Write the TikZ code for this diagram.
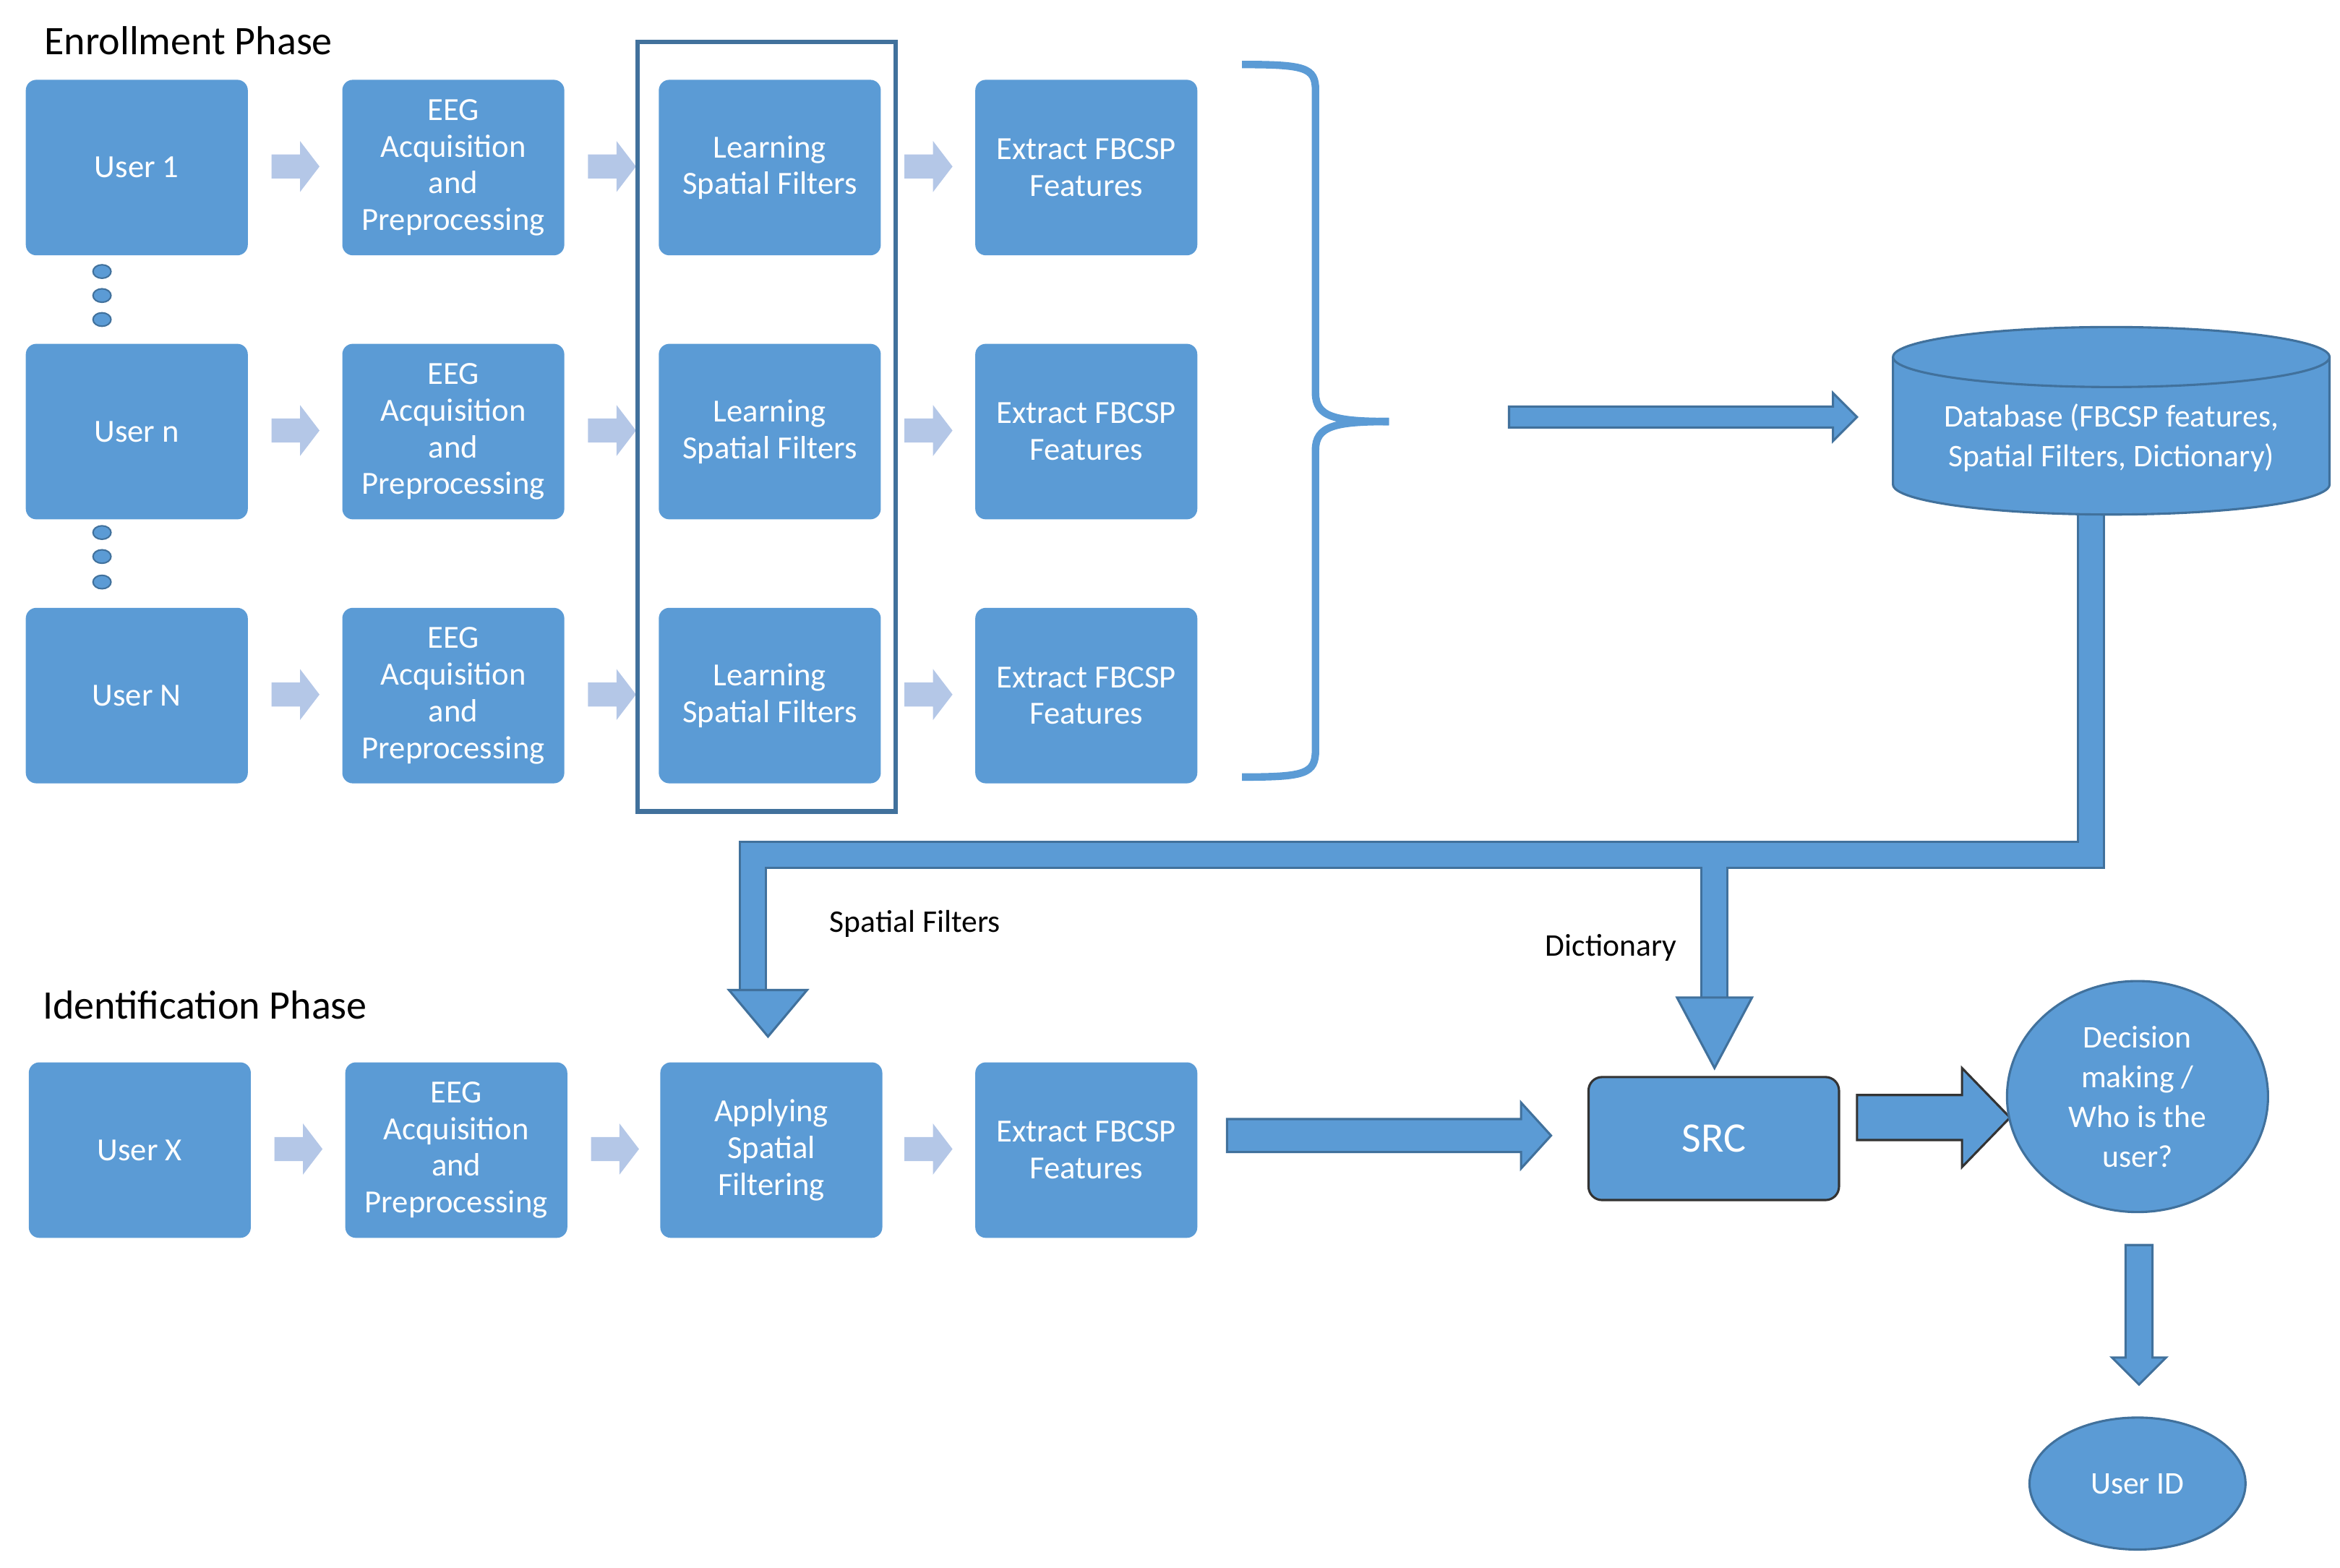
\documentclass[tikz,border=0pt]{standalone}
\usepackage{fontspec}
\setmainfont{Carlito}
\usetikzlibrary{shapes.geometric,decorations.pathreplacing}
\definecolor{bl}{HTML}{5B9BD5}
\definecolor{dk}{HTML}{41719C}
\definecolor{lt}{HTML}{B4C7E7}
\newcommand{\harr}[7]{% x1 x2 y hs hh hl style
  \path[#7] (#1,#3-#4) -- (#2-#6,#3-#4) -- (#2-#6,#3-#5) -- (#2,#3) -- (#2-#6,#3+#5) -- (#2-#6,#3+#4) -- (#1,#3+#4) -- cycle;}
\newcommand{\varr}[7]{% y1 y2 x hs hh hl style
  \path[#7] (#3-#4,#1) -- (#3-#4,#2-#6) -- (#3-#5,#2-#6) -- (#3,#2) -- (#3+#5,#2-#6) -- (#3+#4,#2-#6) -- (#3+#4,#1) -- cycle;}
\begin{document}
\begin{tikzpicture}[x=1pt,y=-1pt,
  box/.style={fill=bl,rounded corners=7pt,text=white,align=center,font=\fontsize{21.5}{24.5}\selectfont,minimum width=148pt,minimum height=117pt,anchor=north west,inner sep=2pt},
  small/.style={fill=lt},
  big/.style={fill=bl,draw=dk,line width=1.5pt},
  lbl/.style={font=\fontsize{21}{23}\selectfont,text=black},
  dot/.style={ellipse,fill=bl,draw=dk,line width=1pt,minimum width=12pt,minimum height=9pt,inner sep=0pt}]
\useasboundingbox (0,0) rectangle (1560,1045);
\node[lbl,anchor=west,font=\fontsize{27}{30}\selectfont] (t1) at (26,27) {Enrollment Phase};
\node[lbl,anchor=west,font=\fontsize{27}{30}\selectfont] (t2) at (25,670) {Identification Phase};
\foreach \r/\y/\u in {1/53/User 1,2/229/User n,3/405/User N}{
  \node[box] (u\r) at (17,\y) {\u};
  \node[box] (e\r) at (228,\y) {EEG\\Acquisition\\and\\Preprocessing};
  \node[box] (l\r) at (439,\y) {Learning\\Spatial Filters};
  \node[box] (f\r) at (650,\y) {Extract FBCSP\\Features};
  \pgfmathsetmacro\c{\y+58}
  \harr{181}{213}{\c}{8}{17}{13}{small}
  \harr{392}{424}{\c}{8}{17}{13}{small}
  \harr{603}{635}{\c}{8}{17}{13}{small}
}
\foreach \i/\y in {a/181,b/197,c/213,d/355,e/371,f/388}{\node[dot] (d\i) at (68,\y) {};}
\draw[dk,line width=3pt] (425,28) rectangle (597,541);
\draw[bl,line width=5pt] (828,43) .. controls (870,43) and (877,45) .. (877,60) -- (877,262) .. controls (877,278) and (890,281) .. (926,281);
\draw[bl,line width=5pt] (828,518) .. controls (870,518) and (877,516) .. (877,500) -- (877,300) .. controls (877,284) and (890,281) .. (926,281);
\harr{1006}{1238}{278}{7}{16}{16}{big}
% distribution
\draw[dk,line width=19pt] (1394,330) -- (1394,570) -- (502,570) -- (502,662);
\draw[dk,line width=19pt] (1143,570) -- (1143,667);
\draw[bl,line width=16pt] (1394,330) -- (1394,570) -- (502,570) -- (502,664);
\draw[bl,line width=16pt] (1143,570) -- (1143,669);
\path[fill=bl,draw=dk,line width=1.5pt] (486,660) -- (538,660) -- (512,691) -- cycle;
\path[fill=bl,draw=dk,line width=1.5pt] (1118,665) -- (1168,665) -- (1143,712) -- cycle;
% database
\path[fill=bl,draw=dk,line width=1.5pt] (1262,238) -- (1262,323) arc[start angle=180,end angle=0,x radius=145.5,y radius=20] -- (1553,238);
\node[ellipse,fill=bl,draw=dk,line width=1.5pt,minimum width=291pt,minimum height=40pt,inner sep=0pt] (dbtop) at (1407.5,238) {};
\node[text=white,align=center,font=\fontsize{21}{26.5}\selectfont] (db) at (1407.5,292) {Database (FBCSP features,\\Spatial Filters, Dictionary)};
\node[lbl] (sf) at (610,616) {Spatial Filters};
\node[lbl] (dc) at (1074,632) {Dictionary};
% identification
\node[box] (ux) at (19,708) {User X};
\node[box] (ex) at (230,708) {EEG\\Acquisition\\and\\Preprocessing};
\node[box] (ax) at (440,708) {Applying\\Spatial\\Filtering};
\node[box] (fx) at (650,708) {Extract FBCSP\\Features};
\harr{183}{215}{766}{8}{17}{13}{small}
\harr{394}{426}{766}{8}{17}{13}{small}
\harr{603}{635}{766}{8}{17}{13}{small}
\harr{818}{1034}{757}{11}{22}{20}{big}
\node[draw=black!80,line width=1.5pt,fill=bl,rounded corners=9pt,minimum width=167pt,minimum height=82pt,text=white,font=\fontsize{28}{30}\selectfont] (src) at (1142.5,759) {SRC};
\harr{1238}{1340}{745}{15}{33}{32}{{fill=bl,draw=black!80,line width=1.5pt}}
\node[ellipse,fill=bl,draw=dk,line width=1.5pt,minimum width=174pt,minimum height=154pt,inner sep=0pt,text=white,align=center,font=\fontsize{21}{26.5}\selectfont] (dm) at (1425,731) {Decision\\making /\\Who is the\\user?};
\varr{830}{923}{1426}{9}{18}{18}{big}
\node[ellipse,fill=bl,draw=dk,line width=1.5pt,minimum width=144pt,minimum height=88pt,inner sep=0pt,text=white,font=\fontsize{21}{24}\selectfont] (uid) at (1425,989) {User ID};
\end{tikzpicture}
\end{document}
